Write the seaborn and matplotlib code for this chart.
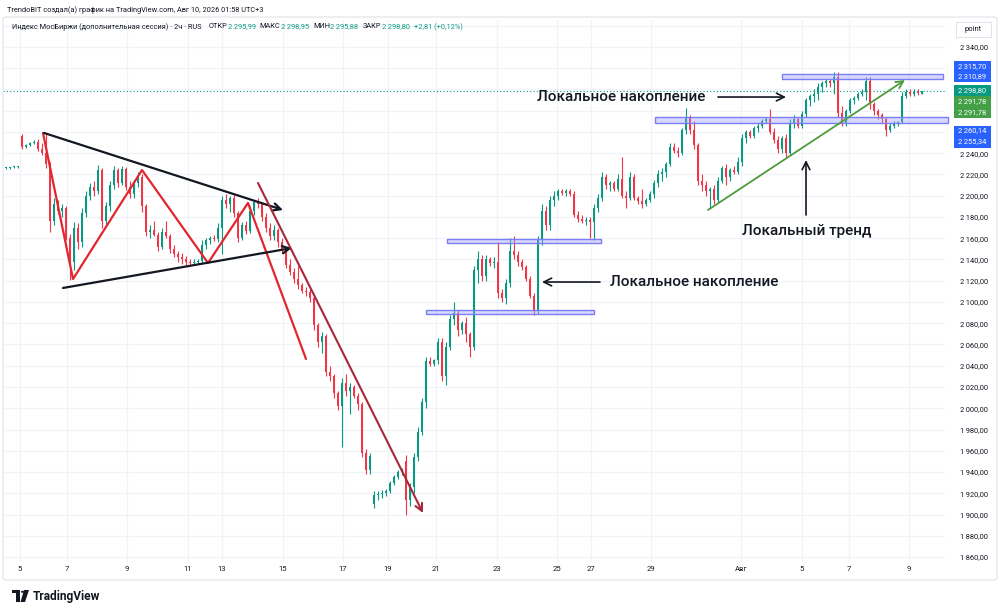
import matplotlib
matplotlib.use("Agg")
import matplotlib.pyplot as plt
import matplotlib.transforms as mtransforms
from matplotlib.patches import Rectangle, FancyBboxPatch, Polygon, Circle
import numpy as np
import pandas as pd
import seaborn as sns

# 2h candles, Индекс МосБиржи (OHLC)
opens = [2226, 2226, 2227, 2227, 2256, 2246, 2248, 2250, 2251, 2244,
         2240, 2230, 2176, 2192, 2186, 2188, 2160, 2138, 2170, 2156,
         2184, 2200, 2208, 2204, 2224, 2176, 2190, 2210, 2224, 2212,
         2225, 2208, 2202, 2212, 2218, 2190, 2166, 2168, 2163, 2152,
         2166, 2162, 2150, 2145, 2142, 2140, 2138, 2137, 2138, 2139,
         2154, 2158, 2160, 2159, 2170, 2196, 2192, 2198, 2184, 2160,
         2172, 2167, 2186, 2194, 2192, 2180, 2170, 2162, 2168, 2156,
         2150, 2135, 2128, 2122, 2116, 2110, 2109, 2104, 2078, 2062,
         2068, 2034, 2030, 2014, 2002, 2024, 2016, 2020, 2012, 2004,
         1958, 1942, 1910, 1918, 1919, 1920, 1922, 1930, 1935, 1940,
         1950, 1914, 1926, 1954, 1978, 2006, 2044, 2042, 2045, 2062,
         2030, 2058, 2084, 2090, 2074, 2080, 2070, 2058, 2130, 2140,
         2124, 2140, 2137, 2138, 2108, 2104, 2118, 2148, 2144, 2138,
         2133, 2122, 2106, 2092, 2158, 2186, 2172, 2196, 2200, 2204,
         2203, 2204, 2202, 2182, 2178, 2176, 2177, 2175, 2188, 2198,
         2218, 2210, 2212, 2206, 2216, 2200, 2198, 2218, 2198, 2195,
         2192, 2196, 2202, 2212, 2220, 2222, 2230, 2246, 2242, 2240,
         2262, 2274, 2262, 2248, 2214, 2210, 2204, 2206, 2196, 2214,
         2226, 2218, 2224, 2222, 2232, 2254, 2260, 2256, 2264, 2266,
         2270, 2272, 2260, 2252, 2244, 2254, 2240, 2268, 2272, 2266,
         2277, 2290, 2294, 2296, 2302, 2306, 2308, 2306, 2312, 2278,
         2268, 2280, 2290, 2292, 2296, 2298, 2308, 2286, 2280, 2276,
         2272, 2262, 2266, 2268, 2269, 2294, 2298, 2296, 2298, 2295.99]
highs = [2227, 2227, 2228, 2228, 2258, 2249, 2251, 2252, 2253, 2250,
         2258, 2232, 2198, 2196, 2192, 2190, 2164, 2175, 2174, 2188,
         2204, 2212, 2214, 2229, 2226, 2194, 2214, 2228, 2226, 2228,
         2227, 2214, 2215, 2222, 2220, 2192, 2172, 2176, 2166, 2170,
         2176, 2164, 2154, 2148, 2146, 2143, 2140, 2140, 2140, 2158,
         2160, 2162, 2163, 2174, 2200, 2202, 2200, 2201, 2186, 2175,
         2176, 2190, 2196, 2198, 2194, 2184, 2174, 2172, 2170, 2160,
         2152, 2140, 2132, 2134, 2118, 2114, 2112, 2106, 2080, 2072,
         2070, 2040, 2032, 2016, 2028, 2032, 2024, 2022, 2014, 2006,
         1962, 1958, 1922, 1922, 1923, 1924, 1932, 1937, 1942, 1944,
         1956, 1930, 1958, 1982, 2010, 2048, 2048, 2046, 2066, 2066,
         2062, 2088, 2100, 2092, 2082, 2086, 2072, 2134, 2148, 2144,
         2144, 2142, 2142, 2156, 2112, 2122, 2160, 2162, 2148, 2140,
         2135, 2124, 2108, 2162, 2192, 2190, 2200, 2204, 2206, 2206,
         2206, 2206, 2204, 2186, 2182, 2180, 2180, 2192, 2202, 2222,
         2220, 2214, 2214, 2220, 2236, 2204, 2222, 2220, 2200, 2206,
         2198, 2204, 2215, 2224, 2226, 2232, 2250, 2250, 2246, 2264,
         2283, 2276, 2270, 2250, 2220, 2214, 2208, 2210, 2218, 2228,
         2230, 2226, 2228, 2236, 2258, 2262, 2262, 2266, 2268, 2272,
         2274, 2282, 2264, 2256, 2256, 2258, 2272, 2276, 2274, 2280,
         2292, 2296, 2300, 2306, 2308, 2310, 2310, 2316, 2316, 2284,
         2282, 2292, 2294, 2298, 2300, 2312, 2312, 2288, 2282, 2278,
         2274, 2268, 2270, 2270, 2298, 2300, 2300, 2300, 2300, 2298.95]
lows = [2225, 2225, 2226, 2226, 2244, 2245, 2247, 2249, 2242, 2238,
        2226, 2166, 2172, 2183, 2180, 2158, 2121, 2130, 2150, 2152,
        2180, 2196, 2200, 2202, 2170, 2172, 2186, 2206, 2208, 2210,
        2205, 2198, 2198, 2208, 2185, 2162, 2160, 2162, 2148, 2150,
        2160, 2146, 2142, 2138, 2136, 2134, 2135, 2135, 2136, 2137,
        2150, 2155, 2157, 2156, 2145, 2188, 2185, 2180, 2156, 2158,
        2164, 2165, 2182, 2188, 2176, 2166, 2158, 2158, 2152, 2146,
        2132, 2125, 2118, 2112, 2108, 2106, 2100, 2074, 2058, 2052,
        2030, 2026, 2010, 1998, 1964, 2012, 1995, 2010, 1998, 1954,
        1938, 1938, 1906, 1914, 1916, 1917, 1920, 1928, 1933, 1937,
        1900, 1908, 1920, 1950, 1975, 2000, 2040, 2040, 2042, 2026,
        2022, 2055, 2078, 2068, 2070, 2062, 2048, 2055, 2118, 2120,
        2120, 2134, 2132, 2104, 2100, 2098, 2114, 2140, 2134, 2130,
        2120, 2104, 2088, 2089, 2154, 2168, 2168, 2190, 2196, 2201,
        2200, 2200, 2180, 2175, 2174, 2172, 2160, 2158, 2185, 2195,
        2206, 2204, 2204, 2204, 2198, 2188, 2196, 2196, 2192, 2188,
        2190, 2194, 2198, 2208, 2214, 2218, 2228, 2240, 2236, 2238,
        2258, 2258, 2244, 2210, 2204, 2200, 2188, 2192, 2194, 2212,
        2210, 2214, 2220, 2220, 2228, 2250, 2254, 2254, 2260, 2264,
        2268, 2258, 2250, 2240, 2240, 2236, 2238, 2264, 2264, 2264,
        2274, 2284, 2288, 2290, 2298, 2302, 2302, 2296, 2274, 2266,
        2266, 2278, 2286, 2290, 2294, 2290, 2282, 2276, 2272, 2268,
        2256, 2260, 2264, 2266, 2268, 2292, 2294, 2294, 2295, 2295.88]
closes = [2226, 2227, 2227, 2228, 2246, 2248, 2250, 2251, 2244, 2240,
          2230, 2176, 2192, 2186, 2188, 2160, 2138, 2170, 2156, 2184,
          2200, 2208, 2204, 2224, 2176, 2190, 2210, 2224, 2212, 2225,
          2208, 2202, 2212, 2218, 2190, 2166, 2168, 2163, 2152, 2166,
          2162, 2150, 2145, 2142, 2140, 2138, 2137, 2138, 2139, 2154,
          2158, 2160, 2159, 2170, 2196, 2192, 2198, 2184, 2160, 2172,
          2167, 2186, 2194, 2192, 2180, 2170, 2162, 2168, 2156, 2150,
          2135, 2128, 2122, 2116, 2110, 2109, 2104, 2078, 2062, 2068,
          2034, 2030, 2014, 2002, 2024, 2016, 2020, 2012, 2004, 1958,
          1942, 1955, 1918, 1919, 1920, 1922, 1930, 1935, 1940, 1942,
          1914, 1926, 1954, 1978, 2006, 2044, 2042, 2045, 2062, 2030,
          2058, 2084, 2090, 2074, 2080, 2070, 2058, 2130, 2140, 2124,
          2140, 2137, 2138, 2108, 2104, 2118, 2148, 2144, 2138, 2133,
          2122, 2106, 2092, 2158, 2186, 2172, 2196, 2200, 2204, 2203,
          2204, 2202, 2182, 2178, 2176, 2177, 2175, 2188, 2198, 2218,
          2210, 2212, 2206, 2216, 2200, 2198, 2218, 2198, 2195, 2192,
          2196, 2202, 2212, 2220, 2222, 2230, 2246, 2242, 2240, 2262,
          2274, 2262, 2248, 2214, 2210, 2204, 2206, 2196, 2214, 2226,
          2218, 2224, 2222, 2232, 2254, 2260, 2256, 2264, 2266, 2270,
          2272, 2260, 2252, 2244, 2254, 2240, 2268, 2272, 2266, 2277,
          2290, 2294, 2296, 2302, 2306, 2308, 2306, 2312, 2278, 2268,
          2280, 2290, 2292, 2296, 2298, 2308, 2286, 2280, 2276, 2272,
          2262, 2266, 2268, 2269, 2294, 2298, 2296, 2298, 2297, 2298.80]

# date ticks (candle index where the label sits)
tick_pos = [3.5, 15.25, 30.25, 45.5, 54, 69.25, 84.25, 95.5, 107.5, 122.75,
            137.75, 146.25, 161.25, 183.75, 199, 210.75, 225.75]
tick_txt = ["5", "7", "9", "11", "13", "15", "17", "19", "21", "23",
            "25", "27", "29", "Авг", "5", "7", "9"]
price_ticks = list(range(1860, 2341, 20))
hidden_ticks = [2320, 2300, 2280, 2260]   # covered by the price tags

# drawings on the chart (candle index, price)
tri_upper = [(9.5, 2259.1), (69.25, 2186.6)]
tri_lower = [(14.25, 2113.2), (71.5, 2150.8)]
zigzag = [(9.25, 2259.1), (16.75, 2121.6), (34, 2224.2), (50.5, 2136.7),
          (60.5, 2193.2), (75, 2046.4)]
channel = [(63, 2212), (104.25, 1901.4)]
trend = [(175.5, 2186.6), (224.75, 2308.9)]
boxes = [(110.25, 148.75, 2155.5, 2159.3), (105, 147, 2088.7, 2092.5),
         (162.25, 235.5, 2268.5, 2274.1), (194, 234.25, 2309.9, 2314.6)]

GREEN = "#089981"
RED = "#f23645"
TXT = "#131722"
GRID = "#f0f3fa"

sns.set_style("white")
plt.rcParams["font.family"] = ["Roboto", "DejaVu Sans"]

fig = plt.figure(figsize=(10, 6.16), dpi=100)
fig.patch.set_facecolor("white")

def fx(px):
    return px / 1000

def fy(py):
    return 1 - py / 616

frame = FancyBboxPatch((fx(3), fy(580)), fx(994), 563 / 616,
                       boxstyle="round,pad=0,rounding_size=0.004",
                       transform=fig.transFigure, fc="none", ec="#e0e3eb", lw=0.8)
fig.patches.append(frame)

ax = fig.add_axes([fx(3), fy(562), fx(942), 542 / 616])
for s in ax.spines.values():
    s.set_visible(False)

ax.set_xlim(-0.75, 234.75)
ax.set_ylim(1855.3, 2365.4)

for p in range(1860, 2361, 20):
    ax.axhline(p, color=GRID, lw=0.9, zorder=0)
for t in tick_pos:
    ax.axvline(t, color=GRID, lw=0.9, zorder=0)

df = pd.DataFrame({"open": opens, "high": highs, "low": lows, "close": closes})
df["i"] = np.arange(len(df))
df["col"] = np.where(df["close"] >= df["open"], GREEN, RED)
body = (df["close"] - df["open"]).where((df["close"] - df["open"]).abs() > 0.8, 0.8)

ax.vlines(df["i"], df["low"], df["high"], colors=df["col"], lw=0.8, zorder=2)
ax.bar(df["i"], body, bottom=df["open"], width=0.62, color=df["col"], lw=0, zorder=2)

# last price dotted line
ax.axhline(closes[-1], color=GREEN, lw=0.8, ls=(0, (1, 2)), zorder=1)

# boxes
for x0, x1, p0, p1 in boxes:
    ax.add_patch(Rectangle((x0, p0), x1 - x0, p1 - p0, fc=(0.62, 0.62, 1.0, 0.4),
                           ec="#7b7ef2", lw=1.0, zorder=3, clip_on=False))

# lines drawn by the author
zz = pd.DataFrame(zigzag, columns=["i", "p"])
sns.lineplot(data=zz, x="i", y="p", sort=False, color="#e3262e", lw=1.6, ax=ax, zorder=4)

def arrow(seg, color, lw, scale=13):
    ax.annotate("", xy=seg[1], xytext=seg[0],
                arrowprops=dict(arrowstyle="->", color=color, lw=lw,
                                mutation_scale=scale, shrinkA=0, shrinkB=0),
                zorder=5)

arrow(tri_upper, "#131722", 1.6)
arrow(tri_lower, "#131722", 1.6)
arrow(channel, "#a8283a", 1.5)
arrow(trend, "#4f9a3d", 1.3)

# text notes
note = dict(fontsize=11, color=TXT, fontweight="medium", va="center", zorder=6)
ax.text(132.75, 2292.9, "Локальное накопление", ha="left", **note)
ax.text(184, 2166.8, "Локальный тренд", ha="left", **note)
ax.text(151, 2118.8, "Локальное накопление", ha="left", **note)
arrow([(178, 2292.9), (195, 2292.9)], TXT, 1.2, 14)
arrow([(200, 2181.9), (200, 2233.6)], TXT, 1.2, 14)
arrow([(148.5, 2118.8), (134, 2118.8)], TXT, 1.2, 14)

ax.set_xlabel("")
ax.set_ylabel("")

# axes ticks
ax.set_xticks(tick_pos)
ax.set_xticklabels(tick_txt)
ax.tick_params(axis="x", length=0, pad=3, labelsize=5.5, labelcolor=TXT)
ax.yaxis.tick_right()
ax.set_yticks(price_ticks)
ax.set_yticklabels(["" if v in hidden_ticks else f"{v // 1000}\u2009{v % 1000:03d},00"
                    for v in price_ticks])
ax.tick_params(axis="y", length=0, pad=10.5, labelsize=5.4, labelcolor=TXT)

# price tags on the right scale
bt = mtransforms.blended_transform_factory(ax.transAxes, ax.transData)
tag_x0 = (954 - 3) / 942
tag_w = (991 - 954) / 942
tags = [("#2962ff", 2307.1, 2326.4, ["2\u2009315,70", "2\u2009310,89"]),
        (GREEN, 2294.3, 2304.2, ["2\u2009298,80"]),
        ("#43a047", 2273.6, 2293.9, ["2\u2009291,78", "2\u2009291,78"]),
        ("#2962ff", 2245.4, 2266.1, ["2\u2009260,14", "2\u2009255,34"])]
for col, p_lo, p_hi, labels in tags:
    ax.add_patch(Rectangle((tag_x0, p_lo), tag_w, p_hi - p_lo, transform=bt,
                           fc=col, ec="none", clip_on=False, zorder=7))
    n = len(labels)
    for k, lab in enumerate(labels):
        yc = p_hi - (k + 0.5) * (p_hi - p_lo) / n
        ax.text(tag_x0 + 0.0045, yc, lab, transform=bt, color="white",
                fontsize=5.4, va="center", ha="left", zorder=8, clip_on=False)

# "point" box on the scale
fig.patches.append(Rectangle((fx(956), fy(37)), fx(35), 15 / 616, transform=fig.transFigure,
                             fc="white", ec="#e0e3eb", lw=0.7))
fig.text(fx(973.5), fy(29.5), "point", fontsize=5.4, color=TXT, ha="center", va="center")

# header lines
fig.text(fx(7), fy(10), "TrendoBIT создал(а) график на TradingView.com, Авг 10, 2026 01:58 UTC+3",
         fontsize=5.3, color=TXT, va="center")
title = fig.text(fx(12), fy(27), "Индекс МосБиржи (дополнительная сессия) · 2ч · RUS",
                 fontsize=5.3, color=TXT, va="center")
head = [("ОТКР", TXT, 0.5), ("2\u2009295,99", GREEN, 4), ("МАКС", TXT, 0.5),
        ("2\u2009298,95", GREEN, 4), ("МИН", TXT, 0.5), ("2\u2009295,88", GREEN, 4),
        ("ЗАКР", TXT, 0.5), ("2\u2009298,80", GREEN, 4), ("+2,81 (+0,12%)", GREEN, 0)]
rend = fig.canvas.get_renderer()
xpos = title.get_window_extent(rend).x1 + 7
for s, c, gap in head:
    t = fig.text(xpos / 1000, fy(27), s, fontsize=5.3, color=c, va="center")
    xpos = t.get_window_extent(rend).x1 + gap

# TradingView logo
fig.patches.append(Rectangle((fx(12), fy(593)), fx(8), 3 / 616, transform=fig.transFigure,
                             fc=TXT, ec="none"))
fig.patches.append(Rectangle((fx(16), fy(602)), fx(4), 12 / 616, transform=fig.transFigure,
                             fc=TXT, ec="none"))
fig.patches.append(Circle((fx(22.5), fy(591.8)), 0.0016, transform=fig.transFigure,
                          fc=TXT, ec="none"))
fig.patches.append(Polygon([(fx(24), fy(590)), (fx(29), fy(590)), (fx(25), fy(602)),
                            (fx(20.5), fy(602))], closed=True, transform=fig.transFigure,
                           fc=TXT, ec="none"))
fig.text(fx(33), fy(596.5), "TradingView", fontsize=8.6, fontweight="bold",
         color=TXT, va="center")

fig.savefig("out.png", dpi=100, facecolor="white")
